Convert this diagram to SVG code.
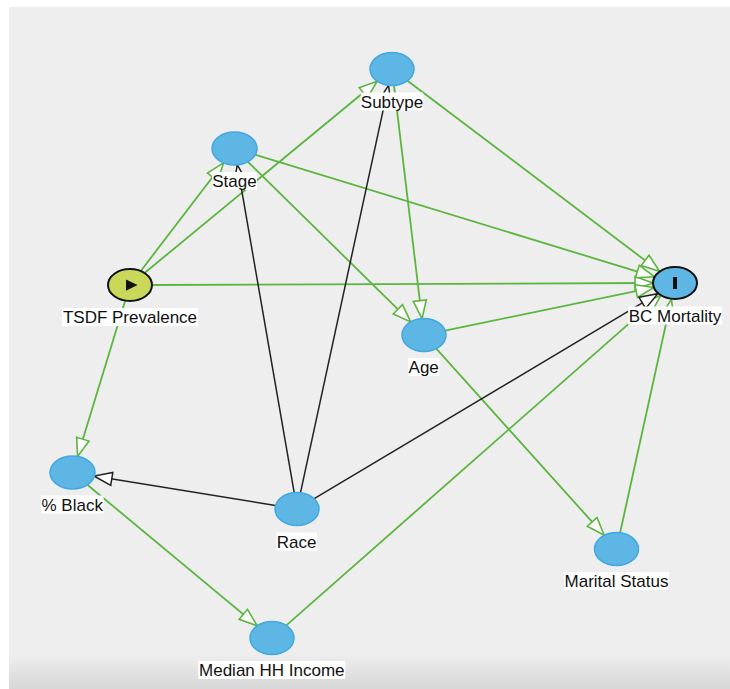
<svg xmlns="http://www.w3.org/2000/svg" width="730" height="689" viewBox="0 0 730 689">
<defs>
<linearGradient id="bg" x1="0" y1="0" x2="0" y2="1">
<stop offset="0" stop-color="#eeeeee"/>
<stop offset="1" stop-color="#d6d6d6"/>
</linearGradient>
<marker id="ag" markerUnits="userSpaceOnUse" markerWidth="24" markerHeight="17" viewBox="-2 -2 24 17" refX="18" refY="6.5" orient="auto" overflow="visible">
<path d="M0,0 L18,6.5 L0,13 Z" fill="#ffffff" stroke="#5bb53f" stroke-width="1.6"/>
</marker>
<marker id="ab" markerUnits="userSpaceOnUse" markerWidth="24" markerHeight="17" viewBox="-2 -2 24 17" refX="18" refY="6.5" orient="auto" overflow="visible">
<path d="M0,0 L18,6.5 L0,13 Z" fill="#ffffff" stroke="#222222" stroke-width="1.5"/>
</marker>
</defs>
<style>
.g{stroke:#5bb53f;stroke-width:1.8;fill:none;marker-end:url(#ag)}
.k{stroke:#222222;stroke-width:1.5;fill:none;marker-end:url(#ab)}
.n{fill:#5eb6e4;stroke:#42a8e0;stroke-width:1.5}
.lb{fill:#ffffff}
.t{font-family:"Liberation Sans",Arial,Helvetica,sans-serif;font-size:17px;fill:#111111;text-anchor:middle}
</style>
<rect x="0" y="0" width="730" height="689" fill="#ffffff"/>
<rect x="9" y="7" width="721" height="682" fill="#eeeeee"/>
<rect x="9" y="655" width="721" height="34" fill="url(#bg)"/>
<g id="connectors">
<line class="g" x1="141" y1="270.7" x2="223.5" y2="162.8"/>
<line class="g" x1="144.8" y1="272.8" x2="377.2" y2="81.2"/>
<line class="g" x1="152" y1="285" x2="653" y2="283"/>
<line class="g" x1="125.1" y1="301.1" x2="77.6" y2="456.4"/>
<line class="g" x1="254.9" y1="154.7" x2="654.6" y2="276.8"/>
<line class="g" x1="247.8" y1="161.6" x2="410.7" y2="321.9"/>
<line class="g" x1="407.5" y1="80.7" x2="659.5" y2="271.3"/>
<line class="g" x1="394" y1="85.4" x2="422" y2="318.6"/>
<line class="g" x1="445.2" y1="330.6" x2="653.8" y2="287.4"/>
<line class="g" x1="436.3" y1="348.7" x2="604.2" y2="535.3"/>
<line class="g" x1="620.1" y1="532.7" x2="671.4" y2="299.3"/>
<line class="g" x1="87.3" y1="484.7" x2="257.2" y2="625.8"/>
<line class="g" x1="286.3" y1="625.4" x2="660.7" y2="295.6"/>
<line class="k" x1="294.2" y1="492.6" x2="237.3" y2="164.9"/>
<line class="k" x1="300.5" y1="492.7" x2="388.5" y2="85.3"/>
<line class="k" x1="275.5" y1="505.5" x2="94" y2="476"/>
<line class="k" x1="314.2" y1="498.7" x2="657.8" y2="293.7"/>
</g>
<g id="node-subtype">
<ellipse class="n" cx="392" cy="69" rx="22" ry="16.5"/>
<rect class="lb" x="360.8" y="92.5" width="62.4" height="18"/>
<text class="t" x="392" y="107.5">Subtype</text>
</g>
<g id="node-stage">
<ellipse class="n" cx="234.5" cy="148.5" rx="22.5" ry="16.5"/>
<rect class="lb" x="212" y="172" width="45" height="18"/>
<text class="t" x="234.5" y="187">Stage</text>
</g>
<g id="node-tsdf">
<ellipse cx="130" cy="285" rx="22" ry="16" fill="#c9d85b" stroke="#111111" stroke-width="2"/>
<path d="M126,279.5 L137.5,285 L126,290.7 Z" fill="#111111"/>
<rect class="lb" x="62" y="308" width="136" height="18"/>
<text class="t" x="130" y="323">TSDF Prevalence</text>
</g>
<g id="node-bc-mortality">
<ellipse cx="675" cy="283" rx="22" ry="16" fill="#5eb6e4" stroke="#111111" stroke-width="2"/>
<rect x="673" y="277" width="4" height="12" fill="#111111"/>
<rect class="lb" x="628" y="306.5" width="94" height="18"/>
<text class="t" x="675" y="321.5">BC Mortality</text>
</g>
<g id="node-age">
<ellipse class="n" cx="424" cy="335" rx="22" ry="16.5"/>
<rect class="lb" x="408" y="358" width="31.5" height="18"/>
<text class="t" x="423.7" y="373">Age</text>
</g>
<g id="node-pct-black">
<ellipse class="n" cx="72.5" cy="472.5" rx="22.5" ry="16.5"/>
<rect class="lb" x="41" y="495.5" width="62.5" height="18"/>
<text class="t" x="72.2" y="510.5">% Black</text>
</g>
<g id="node-race">
<ellipse class="n" cx="297" cy="509" rx="22" ry="16.5"/>
<rect class="lb" x="276.5" y="532.5" width="40.5" height="18"/>
<text class="t" x="296.7" y="547.5">Race</text>
</g>
<g id="node-marital-status">
<ellipse class="n" cx="616.5" cy="549" rx="22" ry="16.5"/>
<rect class="lb" x="564" y="572" width="105" height="18"/>
<text class="t" x="616.5" y="587">Marital Status</text>
</g>
<g id="node-median-hh-income">
<ellipse class="n" cx="272" cy="638" rx="22" ry="16.5"/>
<rect class="lb" x="198.3" y="661" width="147" height="18"/>
<text class="t" x="271.8" y="676">Median HH Income</text>
</g>
</svg>
